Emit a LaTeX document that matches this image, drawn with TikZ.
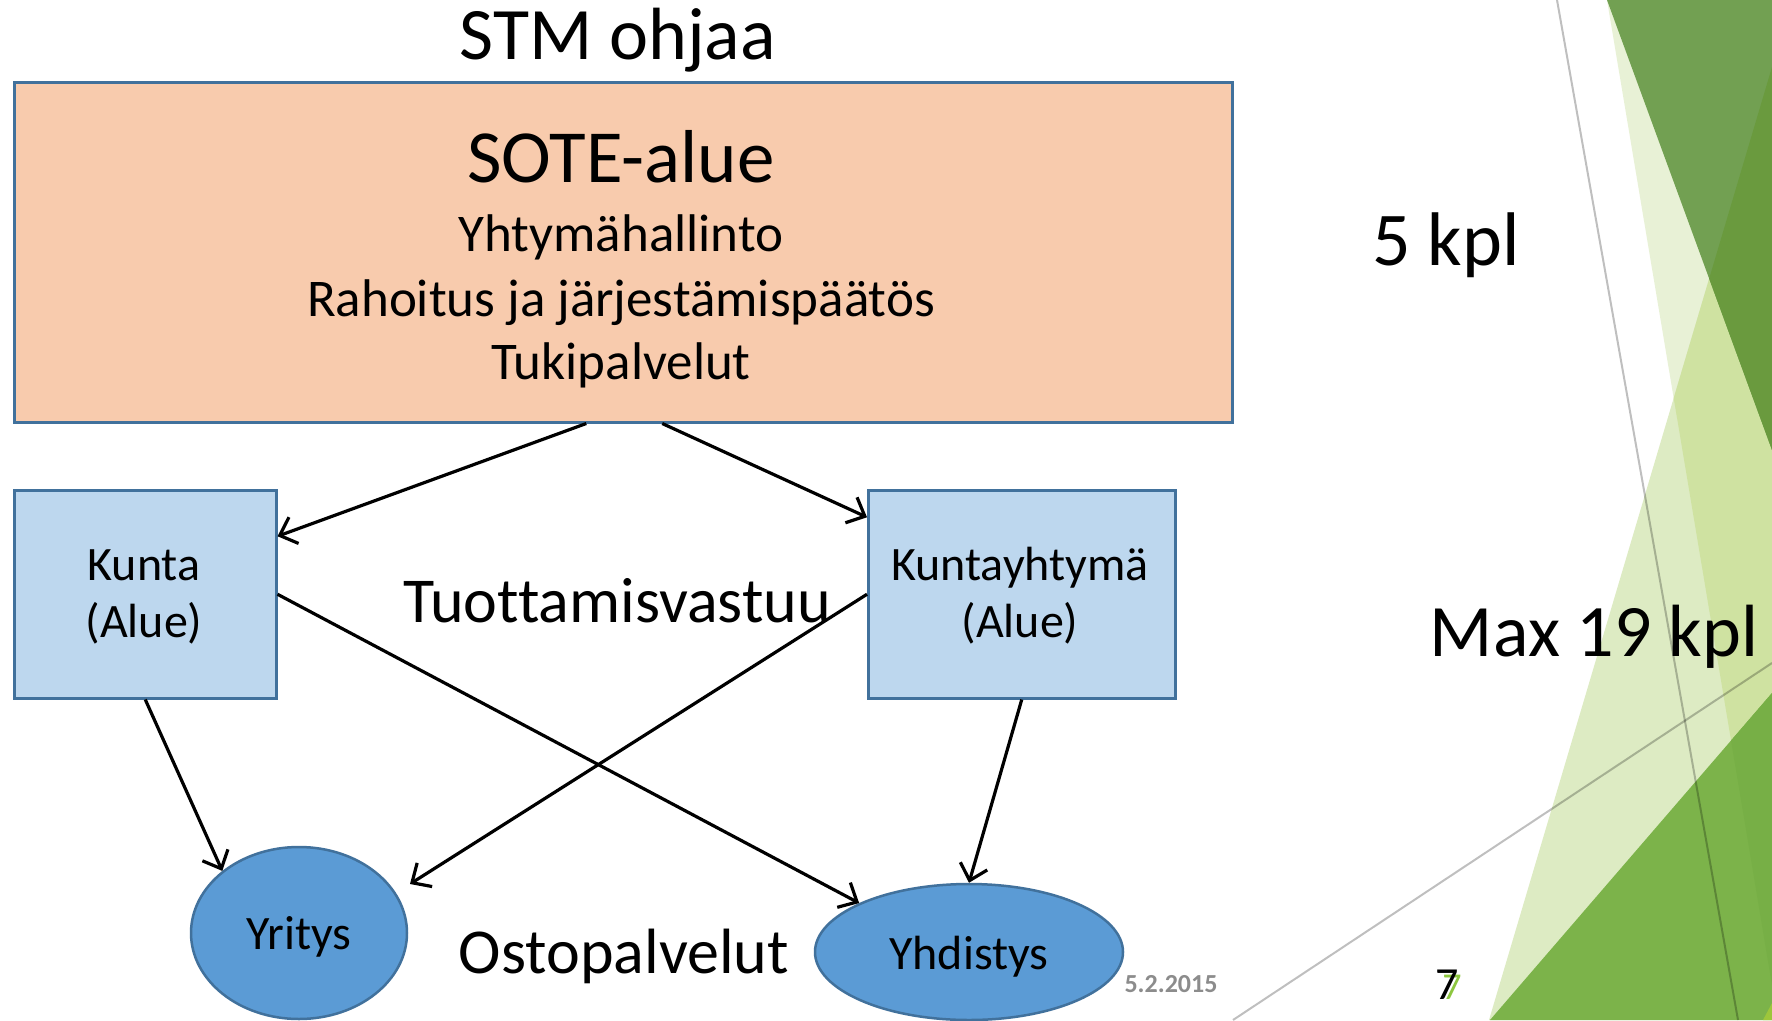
\documentclass[tikz,border=0pt]{standalone}
\usepackage{fontspec}
\setmainfont{Carlito}[Ligatures=NoCommon]
\usetikzlibrary{arrows.meta,shapes.geometric}
\definecolor{sotefill}{HTML}{F8CBAD}
\definecolor{boxline}{HTML}{41719C}
\definecolor{kfill}{HTML}{BDD7EE}
\definecolor{efill}{HTML}{5B9BD5}
\definecolor{gA}{HTML}{E8F1D6}
\definecolor{gB}{HTML}{DDEBC3}
\definecolor{gAB}{HTML}{CFE2A1}
\definecolor{gDark}{HTML}{72A052}
\definecolor{gDarker}{HTML}{6A9A3E}
\definecolor{gMid}{HTML}{7CB34A}
\definecolor{gMidA}{HTML}{77AF46}
\definecolor{gLime}{HTML}{9DC63B}
\definecolor{gSeven}{HTML}{8DC63F}
\definecolor{dategray}{HTML}{8C8C8C}
\newcommand\myfs[1]{\fontsize{#1}{#1}\selectfont}
\begin{document}
\begin{tikzpicture}[x=1pt,y=-1pt,
  boxstyle/.style={rectangle, draw=boxline, line width=2.5pt, inner sep=0pt, anchor=north west},
  ellstyle/.style={ellipse, draw=boxline, fill=efill, line width=2.5pt, inner sep=0pt},
  conn/.style={line width=3.2pt, -{Straight Barb[length=15pt,width=28pt,line width=3.2pt]}},
  thinline/.style={draw=black, draw opacity=0.25, line width=2pt},
  txt/.style={anchor=base, inner sep=0pt}]
\useasboundingbox (0,0) rectangle (1772,1020);
\fill[white] (0,0) rectangle (1772,1020);
% --- decoration ---
\fill[gA] (1607,0) -- (1772,0) -- (1772,985) -- cycle;
\fill[gB] (1772,67) -- (1489,1020) -- (1772,1020) -- cycle;
\begin{scope}
  \clip (1772,67) -- (1489,1020) -- (1772,1020) -- cycle;
  \fill[gAB] (1607,0) -- (1772,0) -- (1772,985) -- cycle;
\end{scope}
\fill[gDark] (1607,0) -- (1772,0) -- (1772,450) -- cycle;
\begin{scope}
  \clip (1772,67) -- (1489,1020) -- (1772,1020) -- cycle;
  \fill[gDarker] (1607,0) -- (1772,0) -- (1772,450) -- cycle;
\end{scope}
\fill[gMid] (1490,1020) -- (1772,693) -- (1772,1020) -- cycle;
\begin{scope}
  \clip (1490,1020) -- (1772,693) -- (1772,1020) -- cycle;
  \fill[gMidA] (1607,0) -- (1772,0) -- (1772,985) -- cycle;
\end{scope}
\fill[gLime] (1763,1020) -- (1772,1003) -- (1772,1020) -- cycle;
\draw[thinline] (1557,0) -- (1738,1020);
\draw[thinline] (1233,1020) -- (1772,663);
% --- boxes ---
\node[boxstyle, fill=sotefill, minimum width=1218pt, minimum height=340pt] (sote) at (13,81) {};
\node[boxstyle, fill=kfill, minimum width=262pt, minimum height=208pt] (kunta) at (13,489) {};
\node[boxstyle, fill=kfill, minimum width=307pt, minimum height=208pt] (kyh) at (867,489) {};
\node[ellstyle, minimum width=216pt, minimum height=172pt] (yri) at (299,933) {};
\node[ellstyle, minimum width=308pt, minimum height=136pt] (yhd) at (969,952) {};
% --- texts ---
\node[txt, font=\myfs{74}] (stm) at (618,59) {STM ohjaa};
\node[txt, font=\myfs{75}] (sotet) at (621,182) {SOTE-alue};
\node[txt, font=\myfs{53}] (l1) at (621,251) {Yhtymähallinto};
\node[txt, font=\myfs{53}] (l2) at (621,316) {Rahoitus ja järjestämispäätös};
\node[txt, font=\myfs{53}] (l3) at (621,379) {Tukipalvelut};
\node[txt, font=\myfs{48}] (k1) at (144,580) {Kunta};
\node[txt, font=\myfs{48}] (k2) at (144,637) {(Alue)};
\node[txt, font=\myfs{48}] (ky1) at (1020,580) {Kuntayhtymä};
\node[txt, font=\myfs{48}] (ky2) at (1020,637) {(Alue)};
\node[txt, font=\myfs{48}] (yrit) at (299,949) {Yritys};
\node[txt, font=\myfs{48}] (yhdt) at (969,969) {Yhdistys};
\node[txt, font=\myfs{64}] (tuot) at (617,622) {Tuottamisvastuu};
\node[txt, font=\myfs{64}] (osto) at (624,973) {Ostopalvelut};
\node[txt, font=\myfs{76}] (kpl5) at (1446,265) {5 kpl};
\node[txt, font=\myfs{74}] (kpl19) at (1594,656) {Max 19 kpl};
\node[txt, font=\bfseries\myfs{26}, text=dategray] (date) at (1171,992) {5.2.2015};
\node[txt, font=\myfs{38}, text=gSeven] (sevg) at (1452,999) {7};
\node[txt, font=\myfs{46}] (sev) at (1447,999) {7};
% --- connectors ---
\draw[conn] ([xshift=-37pt]sote.south) -- ([yshift=58pt]kunta.east);
\draw[conn] ([xshift=39pt]sote.south) -- ([yshift=77pt]kyh.west);
\draw[conn] (kunta.east) -- (yhd.156);
\draw[conn] (kyh.west) -- ([xshift=111pt,yshift=49pt]yri.center);
\draw[conn] (kunta.south) -- (yri.141);
\draw[conn] (kyh.south) -- (yhd.north);
\end{tikzpicture}
\end{document}
